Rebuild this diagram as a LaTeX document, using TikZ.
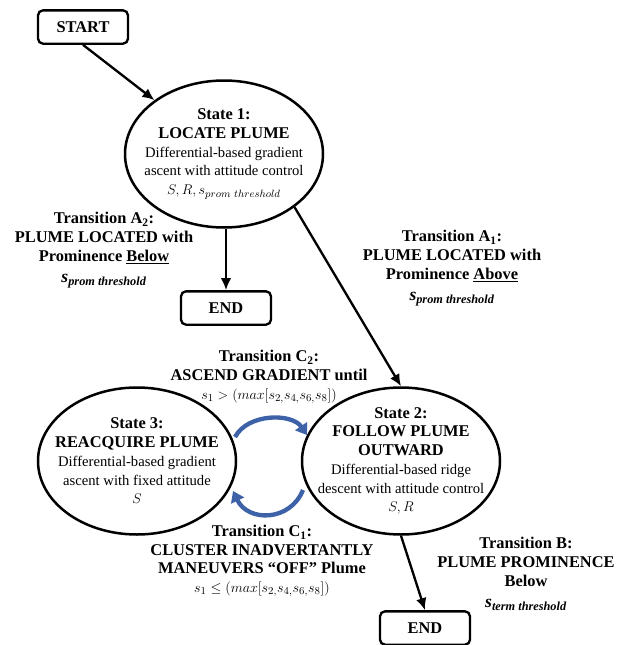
\documentclass[tikz,border=0pt]{standalone}
\usepackage{amsmath}
\usepackage{amssymb}
\usepackage{fontspec}
\setmainfont{Liberation Serif}
\usetikzlibrary{shapes.geometric,arrows.meta}
\definecolor{arcblue}{RGB}{62,98,168}
\newcommand{\stitle}[1]{{\fontsize{14}{16}\selectfont\bfseries #1}}
\newcommand{\sthr}[1]{{\fontsize{15}{16}\selectfont\bfseries\itshape s\textsubscript{#1}}}

\begin{document}
\begin{tikzpicture}[x=0.3mm,y=-0.3mm,>={Latex[length=3.6mm,width=3.2mm]},
	state/.style={ellipse,draw,line width=0.75mm,minimum width=59.4mm,minimum height=44.1mm,inner sep=-6mm,align=center,font=\fontsize{12.5}{16}\selectfont},
	term/.style={draw,line width=0.7mm,rounded corners=1.5mm,minimum width=27mm,minimum height=10mm,font=\fontsize{14}{16}\selectfont\bfseries},
	trans/.style={align=center,font=\fontsize{12.5}{16}\selectfont},
	flow/.style={->,line width=0.7mm},
	cyclearrow/.style={-{Triangle[length=3.2mm,width=4.2mm]},line width=1.3mm,draw=arcblue}]
				\useasboundingbox (0,0) rectangle (617,645);
				% states and terminals
				\node[term] (start) at (83,27) {START};
				\node[state] (s1) at (224,154) {\stitle{State 1:}\\ \stitle{LOCATE PLUME}\\ Differential-based gradient\\ ascent with attitude control\\ $S,R,s_{prom\ threshold}$};
				\node[term] (end1) at (226,308) {END};
				\node[state] (s2) at (401,461) {\stitle{State 2:}\\ \stitle{FOLLOW PLUME}\\ \stitle{OUTWARD}\\ Differential-based ridge\\ descent with attitude control\\ $S,R$};
				\node[state] (s3) at (137,461) {\stitle{State 3:}\\ \stitle{REACQUIRE PLUME}\\ Differential-based gradient\\ ascent with fixed attitude\\ $S$};
				\node[term] (end2) at (425,628) {END};
				
				% transition labels
				\node[trans] (ta2) at (104,250) {\stitle{Transition A\textsubscript{2}:}\\ \stitle{PLUME LOCATED with}\\ \stitle{Prominence \underline{Below}}\\[2pt] \sthr{prom threshold}};
				\node[trans] (ta1) at (452,268) {\stitle{Transition A\textsubscript{1}:}\\ \stitle{PLUME LOCATED with}\\ \stitle{Prominence \underline{Above}}\\[2pt] \sthr{prom threshold}};
				\node[trans] (tc2) at (269,377) {\stitle{Transition C\textsubscript{2}:}\\ \stitle{ASCEND GRADIENT until}\\ $s_1>(max[s_{2,}s_{4,}s_{6,}s_8])$};
				\node[trans] (tc1) at (262,561) {\stitle{Transition C\textsubscript{1}:}\\ \stitle{CLUSTER INADVERTANTLY}\\ \stitle{MANEUVERS “OFF” Plume}\\ $s_1\leq(max[s_{2,}s_{4,}s_{6,}s_8])$};
				\node[trans] (tb) at (526,574) {\stitle{Transition B:}\\ \stitle{PLUME PROMINENCE}\\ \stitle{Below}\\[2pt] \sthr{term threshold}};
				
				% arrows
				\draw[flow] (start.south) -- (s1);
				\draw[flow] (end1.north |- s1.south) -- (end1.north);
				\draw[flow] (s1.-37) -- (s2.north);
				\draw[flow] (s2.south) -- (end2.north);
				
				\coordinate (c2a) at (235,437);
				\coordinate (c2b) at (307,435);
				\coordinate (c1a) at (303,490);
				\coordinate (c1b) at (233,491);
				\draw[cyclearrow] (c2a) .. controls (248,413) and (292,413) .. (c2b);
				\draw[cyclearrow] (c1a) .. controls (290,522) and (248,522) .. (c1b);
			\end{tikzpicture}
\end{document}
